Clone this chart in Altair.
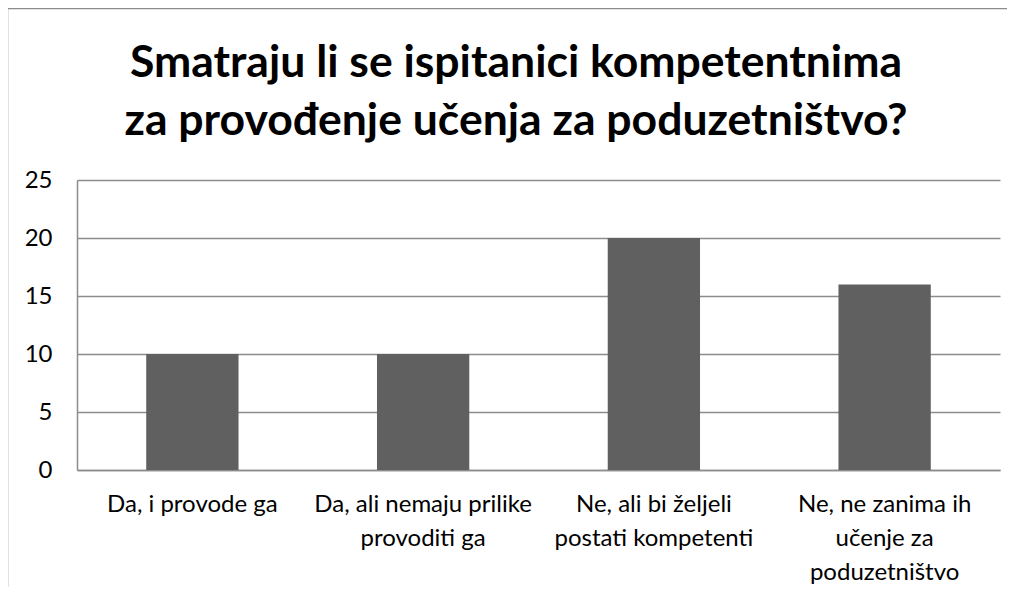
import altair as alt
import pandas as pd

categories = [
    "Da, i provode ga",
    "Da, ali nemaju prilike|provoditi ga",
    "Ne, ali bi željeli|postati kompetenti",
    "Ne, ne zanima ih|učenje za|poduzetništvo",
]
values = [10, 10, 20, 16]
y_ticks = [0, 5, 10, 15, 20, 25]
title_lines = ["Smatraju li se ispitanici kompetentnima", "za provođenje učenja za poduzetništvo?"]

df = pd.DataFrame({"cat": categories, "val": values})

FONT = "Lato"
GRID = "#8c8c8c"

bars = alt.Chart(df).mark_bar(color="#606060").encode(
    x=alt.X(
        "cat:N",
        sort=categories,
        scale=alt.Scale(paddingInner=0.6, paddingOuter=0.3),
        axis=alt.Axis(
            title=None,
            labelAngle=0,
            labelExpr="split(datum.label, '|')",
            labelFont=FONT,
            labelFontSize=24,
            labelColor="#000000",
            labelLineHeight=34,
            labelPadding=22,
            labelBaseline="top",
            labelLimit=400,
            ticks=False,
            domainColor=GRID,
            domainWidth=1.5,
            grid=False,
        ),
    ),
    y=alt.Y(
        "val:Q",
        scale=alt.Scale(domain=[0, 25], nice=False),
        axis=alt.Axis(
            title=None,
            values=y_ticks,
            labelFont=FONT,
            labelFontSize=24,
            labelColor="#000000",
            labelPadding=25,
            ticks=False,
            domainColor=GRID,
            domainWidth=1.5,
            gridColor=GRID,
            gridWidth=1.5,
        ),
    ),
)

frame = alt.Chart(pd.DataFrame({"k": [0]})).mark_rect(
    fill=None, stroke="#8c8c8c", strokeWidth=1.5
).encode(
    x=alt.value(-69.5), x2=alt.value(1200), y=alt.value(-171.5), y2=alt.value(800)
)

title1 = alt.Chart(pd.DataFrame({"t": [title_lines[0]]})).mark_text(
    font=FONT, fontSize=44.5, fontWeight="bold", color="#000000",
    align="center", baseline="alphabetic"
).encode(text="t:N", x=alt.value(439), y=alt.value(-103.5))
title2 = alt.Chart(pd.DataFrame({"t": [title_lines[1]]})).mark_text(
    font=FONT, fontSize=44.5, fontWeight="bold", color="#000000",
    align="center", baseline="alphabetic"
).encode(text="t:N", x=alt.value(439), y=alt.value(-45))

chart = alt.layer(frame, bars, title1, title2).properties(
    width=923,
    height=290,
    padding={"left": 69, "top": 172, "right": 7, "bottom": 117},
    autosize=alt.AutoSizeParams(type="none"),
).configure_view(stroke=None)

chart.save("out.html", embed_options={"renderer": "svg", "actions": False})
